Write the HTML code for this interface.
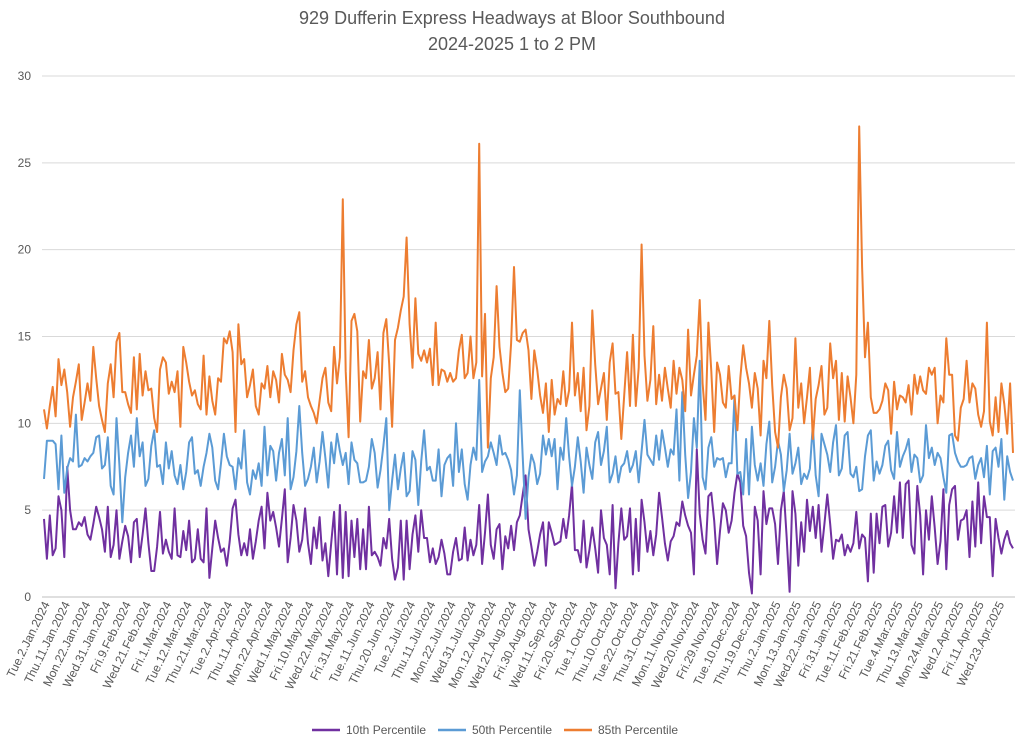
<!DOCTYPE html>
<html><head><meta charset="utf-8"><style>
body{margin:0;background:#fff;font-family:"Liberation Sans",sans-serif}
svg text{font-family:"Liberation Sans",sans-serif;fill:#595959}
</style></head><body>
<svg id="chart" width="1024" height="741" viewBox="0 0 1024 741" xmlns="http://www.w3.org/2000/svg">
<text x="512" y="24" text-anchor="middle" font-size="18">929 Dufferin Express Headways at Bloor Southbound</text>
<text x="512" y="50" text-anchor="middle" font-size="18">2024-2025 1 to 2 PM</text>
<g id="grid"></g>
<g id="ylabels"></g>
<g id="xlabels"></g>
<g id="series"></g>
<g>
<g><line x1="312" y1="730" x2="340" y2="730" stroke="#7030a0" stroke-width="2.5"/><text x="346" y="734" font-size="12">10th Percentile</text></g>
<g><line x1="438" y1="730" x2="466" y2="730" stroke="#5b9bd5" stroke-width="2.5"/><text x="472" y="734" font-size="12">50th Percentile</text></g>
<g><line x1="564" y1="730" x2="592" y2="730" stroke="#ed7d31" stroke-width="2.5"/><text x="598" y="734" font-size="12">85th Percentile</text></g>
</g>
</svg>
<script>
const yTicks=[0,5,10,15,20,25,30];
const xTickLabels=["Tue.2.Jan.2024","Thu.11.Jan.2024","Mon.22.Jan.2024","Wed.31.Jan.2024","Fri.9.Feb.2024","Wed.21.Feb.2024","Fri.1.Mar.2024","Tue.12.Mar.2024","Thu.21.Mar.2024","Tue.2.Apr.2024","Thu.11.Apr.2024","Mon.22.Apr.2024","Wed.1.May.2024","Fri.10.May.2024","Wed.22.May.2024","Fri.31.May.2024","Tue.11.Jun.2024","Thu.20.Jun.2024","Tue.2.Jul.2024","Thu.11.Jul.2024","Mon.22.Jul.2024","Wed.31.Jul.2024","Mon.12.Aug.2024","Wed.21.Aug.2024","Fri.30.Aug.2024","Wed.11.Sep.2024","Fri.20.Sep.2024","Tue.1.Oct.2024","Thu.10.Oct.2024","Tue.22.Oct.2024","Thu.31.Oct.2024","Mon.11.Nov.2024","Wed.20.Nov.2024","Fri.29.Nov.2024","Tue.10.Dec.2024","Thu.19.Dec.2024","Thu.2.Jan.2025","Mon.13.Jan.2025","Wed.22.Jan.2025","Fri.31.Jan.2025","Tue.11.Feb.2025","Fri.21.Feb.2025","Tue.4.Mar.2025","Thu.13.Mar.2025","Mon.24.Mar.2025","Wed.2.Apr.2025","Fri.11.Apr.2025","Wed.23.Apr.2025"];
const p85=[10.8,9.7,11,12.1,10.4,13.7,12.2,13.1,11.8,9.8,11.5,12.4,13.4,10.2,11.2,12.3,11.3,14.4,12.6,11,
10.2,9.5,12.3,13.4,11.5,14.7,15.2,11.8,11.8,11.1,10.6,13.8,10.8,14,11.6,13,11.9,12,10.3,9.5,
13.1,13.8,13.5,11.7,12.4,11.8,13,9.8,14.4,13.5,12.4,11.6,11.9,11.1,10.8,13.9,10.5,12.7,11.3,10.5,
12.6,12.4,14.9,14.6,15.3,14.1,9.5,15.7,13.4,13.7,11.5,12.2,13.1,11,10.5,12.3,12,13.3,11.5,13,
12.5,11.2,14,12.8,12.5,11.8,14.2,15.7,16.4,12.4,13,11.5,11,10.6,10,11.3,12.6,13.2,11.2,10.7,
14.4,12.3,13.8,22.9,13,9.2,15.9,16.3,15.3,10.1,13,12.6,14.8,12,12.6,14.1,10.8,15.2,16,13.4,
9.8,14.8,15.5,16.5,17.3,20.7,15.7,13.2,17.2,14,13.6,14.2,13.5,14.3,12.2,15.8,12.2,13.1,13,12.4,
12.9,12.4,12.6,14.2,15.1,12.6,12.9,15,12.6,13.5,26.1,12.7,16.3,8.6,12.6,13.8,17.9,14.4,12.9,11.8,
12,14.6,19,14.8,14.7,15.2,15.4,14.2,11.4,14.2,13.1,11.6,10.6,12.3,9.5,12.5,10.5,11.4,11.1,13,
11,11.9,15.8,11.6,12.9,10.7,13.2,9.6,11,16.5,13.4,11.1,12,12.9,10.2,13.5,14.6,11.7,11.8,9.1,
11.6,14.1,11,15.1,11,13.2,20.3,13.9,11.3,12.5,15.6,11.1,12.8,11.3,13.2,12,10.9,13.6,11.7,13.2,
12.5,10.7,15.4,11.6,12.8,13.9,17.1,12.3,10.2,15.8,13,9.5,13.5,12.8,11.2,10.9,13.3,11.4,11.6,9.6,
12.6,14.5,13.2,12.3,10.9,12.9,12,9.3,13.6,12.6,15.9,12.2,9.5,8.6,11.5,12.8,12,9.6,10.3,14.9,
10.9,12.3,10,11.5,13.2,9.1,11.4,12.2,13.3,10.5,10.9,14.6,12.6,13.6,10.2,12.9,10.1,12.7,11.5,10,
12.8,27.1,19,13.8,15.8,11.5,10.6,10.6,10.8,11.3,12.3,11.9,9.4,12.4,10.8,11.6,11.5,11.2,12.2,10.5,
12.8,11.7,12.7,11.9,11.7,13.2,12.8,13.2,10,11.6,11.2,14.9,12.8,12.8,9.3,9,10.9,11.4,13.6,11.2,
12.3,12,10.5,9.8,10.7,15.8,10.1,9.3,11.5,9.5,12.3,11.1,9.4,12.3,8.3];
const p50=[6.8,9,9,9,8.8,6.2,9.3,6,7.4,8,7.8,10.5,7.5,7.6,8,7.8,8.1,8.3,9.2,9.3,
7.4,7.6,9.2,6.4,5.9,10.3,7.6,4.3,6.9,8.3,9.3,7.5,10.3,8.1,8.9,6.4,6.8,8.7,9.6,7.5,
7.6,6.5,8.9,7.4,8.4,7,6.5,7.6,6.2,7.2,8.9,9.2,7.1,7.3,6.4,7.5,8.3,9.4,8.6,6.7,
6.2,7.7,9.4,8.1,7.6,7.5,6.2,8,7.4,9.6,6.6,5.9,7.3,6.8,7.7,6.4,9.8,7,8.7,8.4,
6.7,8.3,9.1,7,10.3,6.2,6.9,8.4,11,8.3,6.4,6.8,7.5,8.6,6.6,7.8,9.5,8,6.3,8.9,
7.7,9.4,8.4,7.6,8.3,6.5,8.9,7.9,7.7,6.6,6.6,6.7,7.5,9.1,8.3,6.3,7.3,8.7,10.3,5,
6.7,8.2,6.2,7.4,8.3,5.8,6.1,8.4,7.9,5.3,7.8,9.6,7.3,7.5,6.7,6.7,8.5,5.8,7.6,8,
8.2,6.4,10,7.2,8.5,6.5,5.6,7.6,8.6,7.9,12.5,7.2,7.8,8.1,8.9,8.3,7.6,9.3,8.2,8.3,
7.9,7.3,5.9,7,11.9,8.1,4.5,6.9,8.2,7.7,6.5,7.1,9.3,8.2,9.1,8.1,9.1,6.2,8.6,7.9,
10.3,8.1,6.4,7.5,9.2,7.8,6,8.6,7.6,6.8,8.9,9.5,7.6,8.4,9.8,6.6,7.1,8.1,6.6,7.5,
7.7,8.4,7.2,7.6,8.4,6.6,8.4,10.2,8.2,7.9,7.6,9.3,7.9,9.6,8.6,7.5,8.5,8.2,10.8,6.7,
11.8,8.2,5.7,7.2,10.3,8.6,13.6,6.9,6.2,8.6,9.2,7.5,8,7.9,8,6.9,7.7,7.7,11.6,7.1,
7.2,5.9,9.1,5.9,9.8,7.6,6.7,7.7,6.4,8.8,10.1,6.6,7.5,9,8.2,6.1,7.3,9.4,7.1,7.7,
8.6,6.5,7.1,6.8,7.4,9.9,7,5.8,9.4,8.8,8.2,7.2,8.9,9.9,7,7.4,9.3,9.5,7.1,6.9,
7.5,6.1,6.2,8.1,9.3,9.6,6.7,7.8,7.1,7.6,8.7,9,7.3,6.8,9.5,7.5,8.1,8.5,9.1,7.2,
8.2,8,6.6,7,9.9,8,8.6,7.6,8.3,8,6.9,6,9.3,9.4,8.3,7.8,7.5,7.5,7.6,8,
8.1,6.8,7.6,8,6.9,8.7,5.9,8.4,8.6,7.5,9.1,5.6,8.1,7.2,6.7];
const p10=[4.5,2.2,4.7,2.4,2.8,5.8,5,2.3,7.5,5,3.9,3.9,4.3,4.1,4.6,3.6,3.3,4.2,5.2,4.6,
3.9,2.6,5.2,2.3,3,5,2.2,3.2,4.1,3.5,2,4.3,4.5,2.3,3.6,5.1,3.1,1.5,1.5,2.9,
4.9,2.5,3.3,2.6,2.2,5.1,2.4,2.3,3.8,2.7,4.4,2,2.2,3.9,2.2,2,5.1,1.1,2.8,4.4,
3.4,2.6,2.8,1.8,3.2,5.1,5.6,3.6,2.4,3.1,2.4,3.9,2.2,3.2,4.4,5.2,2.8,6,4.4,4.9,
4,2.9,4.5,6.2,2,3.4,5.3,4.4,2.6,3.3,5.1,3.1,1.9,4,2.8,4.6,2.1,3.1,1.2,3.1,
4.9,1.3,5.3,1.1,4.9,1.2,4.4,2.3,4.5,1.6,3.9,1.6,5.2,2.4,2.6,2.3,1.8,3.4,2.8,4.5,
2.2,1,1.7,4.4,1,4.4,1.6,3.6,4.7,2.6,5,3.4,3.4,2,2.8,1.9,2.3,3.3,2.5,1.3,
1.3,2.6,3.4,2.1,2.2,4,2.1,3.3,2.4,3,5.3,1.9,3.7,5.9,3,2.2,3.9,4.2,1.6,3.5,
2.8,4.1,2.7,4.3,4.7,5.9,7,3.9,2.9,1.8,2.6,3.6,4.3,1.8,4.3,3.7,3,3.1,3.2,4.5,
3.4,4.7,6.5,2.7,2.7,2,4.4,1.7,2.7,4,2.8,1.4,5,3.4,3,1.3,5.3,0.5,3.1,5.1,
3.3,3.5,5.1,1.3,4.5,1.5,5.6,4.3,2.6,3.8,2.4,3.6,6,4.6,3.1,2.1,3.2,3.5,4.3,4.1,
5.5,4.7,4.1,3.7,1.3,8.5,4.8,3.3,2.5,5.8,6,4.4,1.9,3.8,5.4,5,3.7,4.4,6,7.1,
6.6,4.1,3.5,1.4,0.2,5.2,4.4,1.3,6.1,4.2,5.1,5.1,4.2,1.9,5,6.1,3.4,0.3,6.1,4.8,
1.8,4.3,2.6,5.6,3.8,5.2,3.4,5.3,2.6,4.2,5.9,4.2,2.2,3.3,3.2,3.6,2.4,3,2.6,3.1,
4.9,2.8,3.6,3.4,0.9,4.8,1.4,4.8,3.1,5.2,5.3,2.9,3.7,5.8,3.7,6.6,3.4,6.5,6.7,3,
2.5,6.4,4.7,1.3,5,3.3,5.8,4,1.9,3.2,6.2,1.6,5.3,6.2,6.4,3.3,4.4,4.5,5,2.3,
5.5,2.9,6.6,3.1,5.8,4.6,4.6,1.2,4.5,3.4,2.5,3.3,3.8,3.1,2.8];

const NS="http://www.w3.org/2000/svg";
const L=42,R=1015,T=76,B=597,YMAX=30;
const N=Math.max(p85.length,p50.length,p10.length);
function xs(i){return L+2+i*(R-L-4)/(N-1);}
function ys(v){return B-v/YMAX*(B-T);}
const grid=document.getElementById('grid'),yl=document.getElementById('ylabels'),xl=document.getElementById('xlabels'),sg=document.getElementById('series');
yTicks.forEach(t=>{
  const ln=document.createElementNS(NS,'line');
  
  
  ln.setAttribute('x1',L);ln.setAttribute('x2',R);ln.setAttribute('y1',ys(t));ln.setAttribute('y2',ys(t));
  ln.setAttribute('stroke',t===0?'#bfbfbf':'#d9d9d9');ln.setAttribute('stroke-width','1');
  grid.appendChild(ln);
  const tx=document.createElementNS(NS,'text');
  
  
  tx.setAttribute('x',31);tx.setAttribute('y',ys(t)+4);tx.setAttribute('text-anchor','end');tx.setAttribute('font-size','12');
  tx.textContent=t;yl.appendChild(tx);
});
xTickLabels.forEach((lab,k)=>{
  const x=xs(k*7)+6,y=604;
  const tx=document.createElementNS(NS,'text');
  
  
  tx.setAttribute('x',x);tx.setAttribute('y',y);tx.setAttribute('text-anchor','end');tx.setAttribute('font-size','12');
  tx.setAttribute('transform','rotate(-64 '+x+' '+y+')');
  tx.textContent=lab;xl.appendChild(tx);
});
[[p10,'#7030a0','line-10th-percentile'],[p50,'#5b9bd5','line-50th-percentile'],[p85,'#ed7d31','line-85th-percentile']].forEach(([arr,c,n])=>{
  const pl=document.createElementNS(NS,'polyline');
  
  
  pl.setAttribute('points',arr.map((v,i)=>xs(i).toFixed(1)+','+ys(v).toFixed(1)).join(' '));
  pl.setAttribute('fill','none');pl.setAttribute('stroke',c);pl.setAttribute('stroke-width','2');pl.setAttribute('stroke-linejoin','round');
  sg.appendChild(pl);
});
</script>
</body></html>
